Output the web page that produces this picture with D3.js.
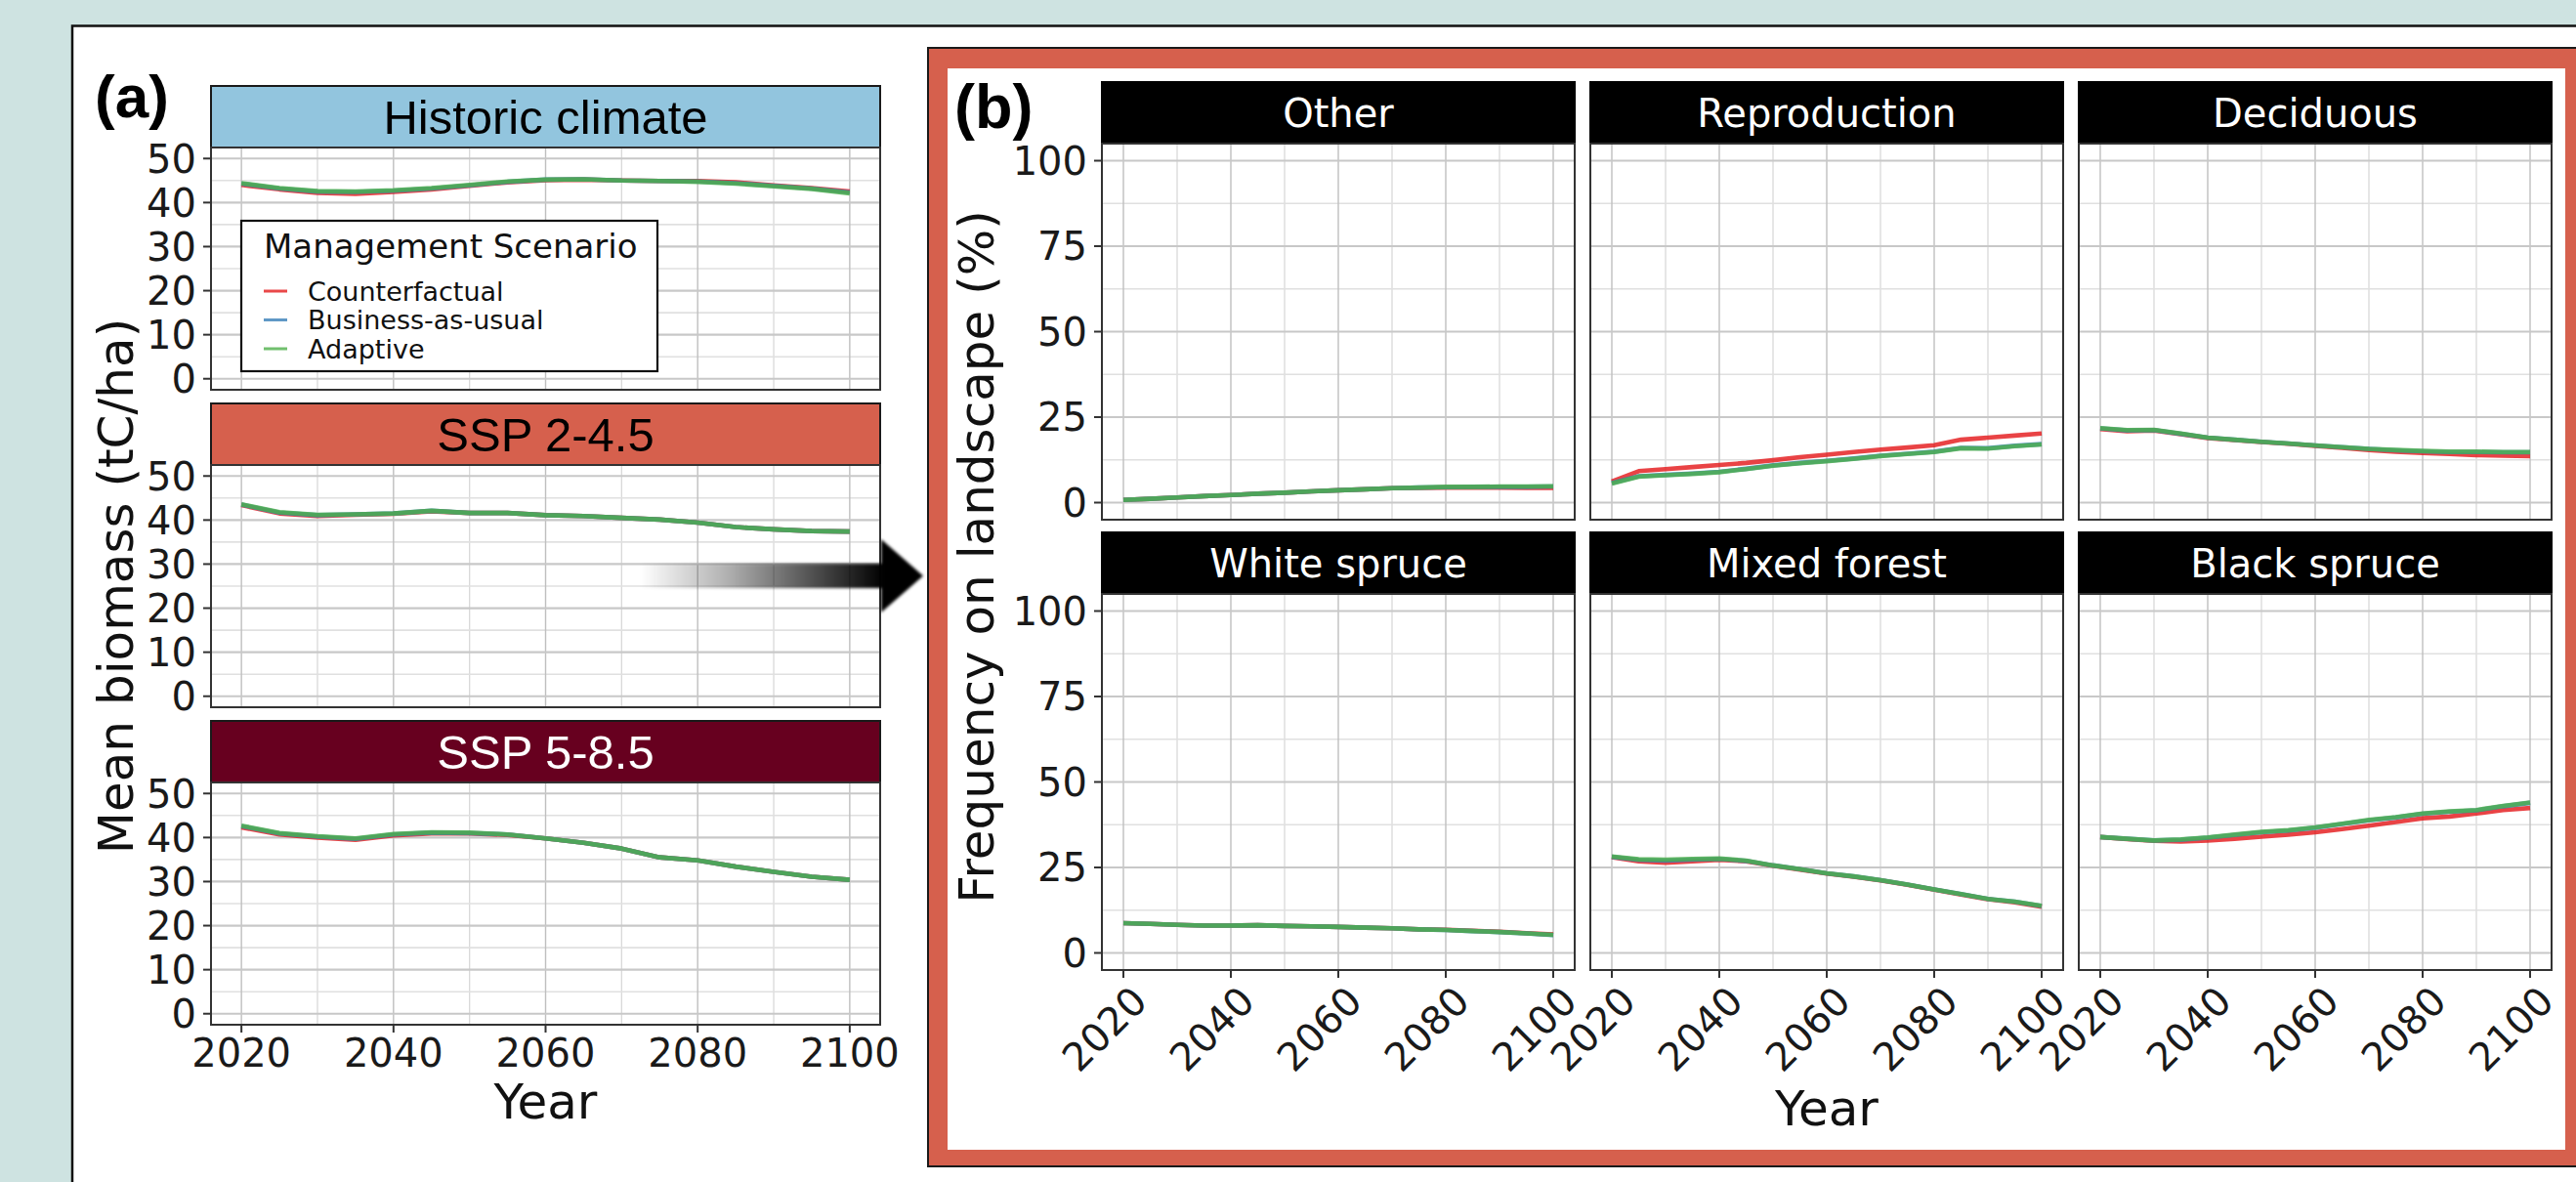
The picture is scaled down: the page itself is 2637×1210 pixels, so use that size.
<!DOCTYPE html>
<html>
<head>
<meta charset="utf-8">
<script src="https://cdn.jsdelivr.net/npm/d3@7"></script>
<style>
  body { margin: 0; background: #cee3e1; }
  svg { display: block; }
  text { font-family: "DejaVu Sans", sans-serif; }
</style>
</head>
<body>
<div id="chart"></div>
<script>
// ---- data (5-year steps) ----
var years = [2020, 2025, 2030, 2035, 2040, 2045, 2050, 2055, 2060, 2065, 2070, 2075, 2080, 2085, 2090, 2095, 2100];

var scenarios = ["Counterfactual", "Business-as-usual", "Adaptive"];
var scenarioColors = ["#e41a1c", "#377eb8", "#4daf4a"];

var climates = ["Historic climate", "SSP 2-4.5", "SSP 5-8.5"];
var climateFill = ["#92c5de", "#d6604d", "#67001f"];
var climateInk = ["#000000", "#000000", "#ffffff"];

// mean biomass (tC/ha): [Counterfactual, Business-as-usual, Adaptive]
var historicBiomass = [
  [44.0, 43.0, 42.2, 42.0, 42.4, 43.0, 43.8, 44.6, 45.1, 45.2, 45.0, 44.9, 44.9, 44.6, 43.9, 43.3, 42.5],
  [44.3, 43.2, 42.5, 42.4, 42.7, 43.2, 43.9, 44.7, 45.2, 45.3, 45.0, 44.9, 44.8, 44.4, 43.8, 43.2, 42.3],
  [44.4, 43.3, 42.6, 42.5, 42.8, 43.3, 44.0, 44.8, 45.2, 45.3, 45.0, 44.9, 44.7, 44.3, 43.7, 43.1, 42.1]
];
var ssp245Biomass = [
  [43.4, 41.5, 40.9, 41.2, 41.4, 42.0, 41.6, 41.6, 41.1, 40.9, 40.5, 40.1, 39.4, 38.4, 37.9, 37.5, 37.4],
  [43.5, 41.7, 41.1, 41.3, 41.5, 42.1, 41.6, 41.6, 41.1, 40.9, 40.5, 40.1, 39.4, 38.4, 37.9, 37.5, 37.4],
  [43.6, 41.8, 41.2, 41.3, 41.5, 42.1, 41.6, 41.6, 41.1, 40.9, 40.5, 40.1, 39.4, 38.4, 37.9, 37.5, 37.4]
];
var ssp585Biomass = [
  [42.3, 40.7, 40.0, 39.5, 40.5, 40.9, 40.9, 40.6, 39.8, 38.8, 37.5, 35.5, 34.8, 33.4, 32.2, 31.1, 30.4],
  [42.6, 40.9, 40.2, 39.7, 40.7, 41.1, 41.0, 40.7, 39.8, 38.8, 37.5, 35.5, 34.8, 33.4, 32.2, 31.1, 30.4],
  [42.7, 41.0, 40.3, 39.8, 40.8, 41.2, 41.1, 40.7, 39.8, 38.8, 37.5, 35.5, 34.8, 33.4, 32.2, 31.1, 30.4]
];
var biomass = [historicBiomass, ssp245Biomass, ssp585Biomass];

var biomassTicks = [0, 10, 20, 30, 40, 50];
var freqTicks = [0, 25, 50, 75, 100];
var yearTicks = [2020, 2040, 2060, 2080, 2100];

// frequency on landscape (%)
var coverTypes = ["Other", "Reproduction", "Deciduous", "White spruce", "Mixed forest", "Black spruce"];
var otherFreq = [
  [0.8, 1.1, 1.5, 1.9, 2.2, 2.6, 2.9, 3.3, 3.6, 3.9, 4.2, 4.3, 4.4, 4.4, 4.4, 4.3, 4.3],
  [0.8, 1.1, 1.5, 1.9, 2.2, 2.6, 2.9, 3.3, 3.6, 3.9, 4.2, 4.4, 4.5, 4.6, 4.6, 4.6, 4.7],
  [0.8, 1.1, 1.5, 1.9, 2.2, 2.6, 2.9, 3.3, 3.6, 3.9, 4.2, 4.4, 4.6, 4.6, 4.7, 4.7, 4.8]
];
var reproductionFreq = [
  [6.2, 9.2, 9.8, 10.4, 11.0, 11.6, 12.4, 13.3, 14.0, 14.8, 15.5, 16.1, 16.8, 18.4, 19.0, 19.6, 20.2],
  [5.7, 7.7, 8.1, 8.5, 9.0, 9.9, 10.9, 11.6, 12.2, 12.9, 13.7, 14.3, 14.9, 16.0, 15.9, 16.6, 17.1],
  [5.6, 7.6, 8.0, 8.4, 8.9, 9.8, 10.8, 11.5, 12.1, 12.8, 13.6, 14.2, 14.8, 15.9, 15.8, 16.5, 17.0]
];
var deciduousFreq = [
  [21.5, 20.9, 21.1, 20.0, 18.9, 18.3, 17.7, 17.2, 16.6, 16.0, 15.4, 14.9, 14.5, 14.2, 13.9, 13.7, 13.6],
  [21.7, 21.1, 21.2, 20.1, 19.0, 18.4, 17.8, 17.3, 16.7, 16.2, 15.7, 15.3, 15.0, 14.8, 14.8, 14.7, 14.7],
  [21.8, 21.2, 21.3, 20.2, 19.0, 18.4, 17.8, 17.3, 16.7, 16.2, 15.7, 15.4, 15.1, 14.9, 14.9, 14.8, 14.8]
];
var whiteSpruceFreq = [
  [8.7, 8.5, 8.2, 8.0, 8.0, 8.1, 7.9, 7.8, 7.6, 7.4, 7.2, 6.9, 6.8, 6.5, 6.2, 5.8, 5.4],
  [8.7, 8.5, 8.2, 8.0, 8.0, 8.1, 7.9, 7.8, 7.6, 7.4, 7.2, 6.9, 6.7, 6.4, 6.1, 5.7, 5.2],
  [8.7, 8.5, 8.2, 8.0, 8.0, 8.1, 7.9, 7.8, 7.6, 7.4, 7.2, 6.9, 6.7, 6.4, 6.1, 5.7, 5.3]
];
var mixedForestFreq = [
  [28.0, 26.8, 26.4, 26.8, 27.2, 26.8, 25.5, 24.4, 23.2, 22.3, 21.2, 19.9, 18.5, 17.1, 15.7, 14.8, 13.5],
  [28.1, 27.2, 27.0, 27.3, 27.5, 26.9, 25.6, 24.5, 23.3, 22.4, 21.3, 20.0, 18.6, 17.2, 15.8, 15.0, 13.7],
  [28.2, 27.4, 27.3, 27.5, 27.6, 27.0, 25.6, 24.5, 23.3, 22.4, 21.3, 20.0, 18.6, 17.2, 15.8, 15.0, 13.8]
];
var blackSpruceFreq = [
  [33.9, 33.3, 32.8, 32.6, 32.9, 33.4, 34.0, 34.6, 35.3, 36.2, 37.2, 38.3, 39.4, 39.9, 40.8, 41.8, 42.4],
  [33.9, 33.4, 32.9, 33.1, 33.7, 34.5, 35.3, 35.8, 36.6, 37.7, 38.8, 39.6, 40.7, 41.3, 41.7, 42.9, 43.9],
  [33.9, 33.4, 32.9, 33.2, 33.8, 34.6, 35.4, 35.9, 36.7, 37.8, 38.9, 39.7, 40.8, 41.4, 41.8, 43.0, 44.0]
];
var frequency = [otherFreq, reproductionFreq, deciduousFreq, whiteSpruceFreq, mixedForestFreq, blackSpruceFreq];

// ---- page ----
var W = 2637, H = 1210;
var svg = d3.select("#chart").append("svg").attr("width", W).attr("height", H);

svg.append("rect").attr("width", W).attr("height", H).attr("fill", "#cee3e1");
svg.append("rect").attr("x", 74).attr("y", 26.5).attr("width", W).attr("height", H)
  .attr("fill", "#ffffff").attr("stroke", "#111").attr("stroke-width", 2.5);

// one facet panel: grid, lines, border, ticks
function drawFacet(opt) {
  var g = svg.append("g");
  var x = d3.scaleLinear().domain([2016, 2104]).range([opt.x0, opt.x0 + opt.w]);
  var y = d3.scaleLinear().domain(opt.yDomain).range([opt.y0 + opt.h, opt.y0]);

  g.append("rect").attr("x", opt.x0).attr("y", opt.y0).attr("width", opt.w).attr("height", opt.h)
    .attr("fill", "#fff");

  // minor grid
  var xMinor = [2030, 2050, 2070, 2090];
  g.selectAll(".vmin").data(xMinor).enter().append("line")
    .attr("x1", d => x(d)).attr("x2", d => x(d)).attr("y1", opt.y0).attr("y2", opt.y0 + opt.h)
    .attr("stroke", "#d9d9d9").attr("stroke-width", 1.3);
  g.selectAll(".hmin").data(opt.yMinor).enter().append("line")
    .attr("y1", d => y(d)).attr("y2", d => y(d)).attr("x1", opt.x0).attr("x2", opt.x0 + opt.w)
    .attr("stroke", "#e0e0e0").attr("stroke-width", 1.6);
  // major grid
  g.selectAll(".vmaj").data(yearTicks).enter().append("line")
    .attr("x1", d => x(d)).attr("x2", d => x(d)).attr("y1", opt.y0).attr("y2", opt.y0 + opt.h)
    .attr("stroke", "#bfbfbf").attr("stroke-width", 1.4);
  g.selectAll(".hmaj").data(opt.yTicks).enter().append("line")
    .attr("y1", d => y(d)).attr("y2", d => y(d)).attr("x1", opt.x0).attr("x2", opt.x0 + opt.w)
    .attr("stroke", "#c8c8c8").attr("stroke-width", 2.2);

  var line = d3.line().x((d, i) => x(years[i])).y(d => y(d));
  opt.series.forEach(function (s, i) {
    g.append("path").attr("d", line(s)).attr("fill", "none")
      .attr("stroke", scenarioColors[i]).attr("stroke-width", 4.6)
      .attr("stroke-linejoin", "round").attr("stroke-opacity", 0.82);
  });

  g.append("rect").attr("x", opt.x0).attr("y", opt.y0).attr("width", opt.w).attr("height", opt.h)
    .attr("fill", "none").attr("stroke", "#333").attr("stroke-width", 2);

  if (opt.yLabels) {
    g.selectAll(".yt").data(opt.yTicks).enter().append("line")
      .attr("x1", opt.x0 - 8).attr("x2", opt.x0).attr("y1", d => y(d)).attr("y2", d => y(d))
      .attr("stroke", "#333").attr("stroke-width", 2);
    g.selectAll(".yl").data(opt.yTicks).enter().append("text")
      .attr("x", opt.x0 - 15).attr("y", d => y(d)).attr("dy", "0.36em")
      .attr("text-anchor", "end").attr("font-size", 40).attr("fill", "#1a1a1a")
      .text(d => d);
  }
  if (opt.xLabels) {
    var yb = opt.y0 + opt.h;
    g.selectAll(".xt").data(yearTicks).enter().append("line")
      .attr("x1", d => x(d)).attr("x2", d => x(d)).attr("y1", yb).attr("y2", yb + 8)
      .attr("stroke", "#333").attr("stroke-width", 2);
    if (opt.rotate) {
      g.selectAll(".xl").data(yearTicks).enter().append("text")
        .attr("transform", d => "translate(" + (x(d) + 6) + "," + (yb + 14) + ") rotate(-45)")
        .attr("dy", "0.72em").attr("text-anchor", "end").attr("font-size", 40).attr("fill", "#1a1a1a")
        .text(d => d);
    } else {
      g.selectAll(".xl").data(yearTicks).enter().append("text")
        .attr("x", d => x(d)).attr("y", yb + 43)
        .attr("text-anchor", "middle").attr("font-size", 40).attr("fill", "#1a1a1a")
        .text(d => d);
    }
  }
}

// ---- panel (a) ----
var aX = 216, aW = 685, stripH = 63, aPlotH = 248, aPitch = 325, aTop = 88;
climates.forEach(function (c, i) {
  var st = aTop + i * aPitch;
  svg.append("rect").attr("x", aX).attr("y", st).attr("width", aW).attr("height", stripH)
    .attr("fill", climateFill[i]).attr("stroke", "#1a1a1a").attr("stroke-width", 2);
  svg.append("text").attr("x", aX + aW / 2).attr("y", st + stripH / 2).attr("dy", "0.36em")
    .attr("text-anchor", "middle").attr("font-size", 49)
    .style("font-family", "'Liberation Sans', Arial, sans-serif")
    .attr("fill", climateInk[i]).text(c);
  drawFacet({
    x0: aX, y0: st + stripH, w: aW, h: aPlotH, yDomain: [-2.5, 52.5],
    yTicks: biomassTicks, yMinor: [5, 15, 25, 35, 45], series: biomass[i],
    yLabels: true, xLabels: i === 2, rotate: false
  });
});

svg.append("text").attr("x", 97).attr("y", 120).attr("font-size", 62).attr("font-weight", "bold")
  .style("font-family", "'Liberation Sans', Arial, sans-serif").text("(a)");
svg.append("text").attr("transform", "translate(136,600) rotate(-90)")
  .attr("text-anchor", "middle").attr("font-size", 50).attr("fill", "#111").text("Mean biomass (tC/ha)");
svg.append("text").attr("x", aX + aW / 2).attr("y", 1145)
  .attr("text-anchor", "middle").attr("font-size", 50).attr("fill", "#111").text("Year");

// legend
var lg = svg.append("g");
lg.append("rect").attr("x", 247).attr("y", 226).attr("width", 426).attr("height", 154)
  .attr("fill", "#fff").attr("stroke", "#111").attr("stroke-width", 2.2);
lg.append("text").attr("x", 270).attr("y", 264).attr("font-size", 34).attr("fill", "#111")
  .text("Management Scenario");
scenarios.forEach(function (s, i) {
  var ly = 298 + i * 29.5;
  lg.append("line").attr("x1", 270).attr("x2", 294).attr("y1", ly).attr("y2", ly)
    .attr("stroke", scenarioColors[i]).attr("stroke-width", 3).attr("stroke-opacity", 0.8);
  lg.append("text").attr("x", 315).attr("y", ly).attr("dy", "0.36em").attr("font-size", 27)
    .attr("fill", "#111").text(s);
});

// arrow from (a) to (b)
var defs = svg.append("defs");
var grad = defs.append("linearGradient").attr("id", "arrowGrad")
  .attr("gradientUnits", "userSpaceOnUse").attr("x1", 655).attr("x2", 905).attr("y1", 0).attr("y2", 0);
grad.append("stop").attr("offset", 0).attr("stop-color", "#000").attr("stop-opacity", 0);
grad.append("stop").attr("offset", 0.35).attr("stop-color", "#000").attr("stop-opacity", 0.3);
grad.append("stop").attr("offset", 1).attr("stop-color", "#000").attr("stop-opacity", 1);
defs.append("filter").attr("id", "soft").append("feGaussianBlur").attr("stdDeviation", 1.6);
svg.append("path")
  .attr("d", "M655,577 L902,577 L902,552 L945,589.5 L902,627 L902,602 L655,602 Z")
  .attr("fill", "url(#arrowGrad)").attr("filter", "url(#soft)");

// ---- panel (b) ----
svg.append("rect").attr("x", 950).attr("y", 49).attr("width", 1720).attr("height", 1145)
  .attr("fill", "#d6604d").attr("stroke", "#1a1a1a").attr("stroke-width", 2);
svg.append("rect").attr("x", 970).attr("y", 70).attr("width", 1656).attr("height", 1107)
  .attr("fill", "#fff");

var bCols = [1128, 1628, 2128], bW = 484, bRows = [84, 545], bPlotH = 385;
coverTypes.forEach(function (c, i) {
  var col = i % 3, row = Math.floor(i / 3);
  var x0 = bCols[col], st = bRows[row];
  svg.append("rect").attr("x", x0).attr("y", st).attr("width", bW).attr("height", stripH)
    .attr("fill", "#000").attr("stroke", "#000").attr("stroke-width", 2);
  svg.append("text").attr("x", x0 + bW / 2).attr("y", st + stripH / 2).attr("dy", "0.36em")
    .attr("text-anchor", "middle").attr("font-size", 40).attr("fill", "#fff").text(c);
  drawFacet({
    x0: x0, y0: st + stripH, w: bW, h: bPlotH, yDomain: [-5, 105],
    yTicks: freqTicks, yMinor: [12.5, 37.5, 62.5, 87.5], series: frequency[i],
    yLabels: col === 0, xLabels: row === 1, rotate: true
  });
});

svg.append("text").attr("x", 977).attr("y", 131).attr("font-size", 63).attr("font-weight", "bold")
  .style("font-family", "'Liberation Sans', Arial, sans-serif").text("(b)");
svg.append("text").attr("transform", "translate(1017,570) rotate(-90)")
  .attr("text-anchor", "middle").attr("font-size", 50).attr("fill", "#111").text("Frequency on landscape (%)");
svg.append("text").attr("x", 1870).attr("y", 1152)
  .attr("text-anchor", "middle").attr("font-size", 50).attr("fill", "#111").text("Year");
</script>
</body>
</html>
